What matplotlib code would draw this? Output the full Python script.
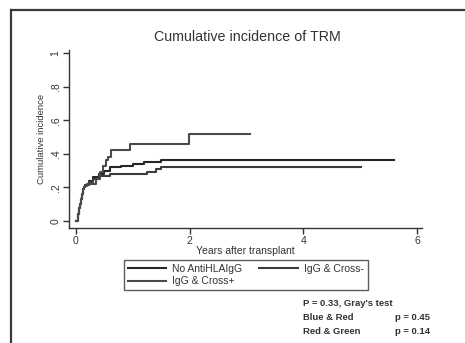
"""Cumulative incidence of TRM by anti-HLA IgG group (step curves, Stata-like look)."""
import matplotlib.pyplot as plt
from matplotlib.lines import Line2D

plt.rcParams["font.family"] = ["Liberation Sans", "DejaVu Sans"]

# years after transplant / cumulative incidence
NO_ANTI_X = [0.0, 0.02, 0.03, 0.04, 0.05, 0.06, 0.07, 0.08, 0.09, 0.10, 0.11, 0.12, 0.13,
             0.14, 0.16, 0.22, 0.30, 0.40, 0.50, 0.60, 0.80, 1.00, 1.20, 1.50, 5.60]
NO_ANTI_Y = [0.0, 0.0, 0.02, 0.04, 0.06, 0.08, 0.10, 0.12, 0.13, 0.15, 0.16, 0.17, 0.19,
             0.20, 0.215, 0.24, 0.26, 0.28, 0.30, 0.32, 0.33, 0.34, 0.35, 0.36, 0.36]

CROSS_NEG_X = [0.0, 0.02, 0.03, 0.04, 0.05, 0.06, 0.07, 0.08, 0.09, 0.10, 0.11, 0.12,
               0.13, 0.14, 0.16, 0.22, 0.30, 0.40, 0.60, 1.25, 1.40, 1.50, 5.02]
CROSS_NEG_Y = [0.0, 0.0, 0.02, 0.04, 0.06, 0.08, 0.10, 0.12, 0.13, 0.15, 0.16, 0.17,
               0.19, 0.20, 0.215, 0.23, 0.25, 0.27, 0.28, 0.29, 0.31, 0.32, 0.32]

CROSS_POS_X = [0.0, 0.02, 0.03, 0.04, 0.05, 0.06, 0.07, 0.08, 0.09, 0.10, 0.11, 0.12, 0.13,
               0.14, 0.16, 0.20, 0.35, 0.42, 0.48, 0.53, 0.57, 0.62, 0.95, 1.99, 3.06]
CROSS_POS_Y = [0.0, 0.0, 0.02, 0.04, 0.06, 0.08, 0.10, 0.12, 0.13, 0.15, 0.16, 0.17, 0.19,
               0.20, 0.21, 0.22, 0.25, 0.29, 0.33, 0.36, 0.38, 0.42, 0.46, 0.52, 0.52]

SERIES = ["No AntiHLAIgG", "IgG & Cross-", "IgG & Cross+"]
COLORS = ["#262626", "#3c3c3c", "#4a4a4a"]

fig = plt.figure(figsize=(4.65, 3.43), dpi=100)

# slide frame (top and left edges)
fig.add_artist(Line2D([11 / 465, 11 / 465], [0, 1 - 10 / 343], color="#3a3a3a", lw=1.6,
                      transform=fig.transFigure))
fig.add_artist(Line2D([11 / 465, 1], [1 - 10 / 343, 1 - 10 / 343], color="#3a3a3a", lw=1.6,
                      transform=fig.transFigure))

ax = fig.add_axes([69 / 465, 1 - 228 / 343, (422 - 69) / 465, (228 - 50) / 343])

data = [(NO_ANTI_X, NO_ANTI_Y), (CROSS_NEG_X, CROSS_NEG_Y), (CROSS_POS_X, CROSS_POS_Y)]
lines = []
for (xs, ys), name, c in zip(data, SERIES, COLORS):
    ln, = ax.step(xs, ys, where="post", color=c, lw=1.5, label=name)
    lines.append(ln)

ax.set_xlim(-0.123, 6.086)
ax.set_ylim(-0.042, 1.018)
ax.set_xticks([0, 2, 4, 6])
ax.set_yticks([0, 0.2, 0.4, 0.6, 0.8, 1.0])
ax.set_yticklabels(["0", ".2", ".4", ".6", ".8", "1"], rotation=90, va="center")
for side in ("top", "right"):
    ax.spines[side].set_visible(False)
for side in ("left", "bottom"):
    ax.spines[side].set_color("#333333")
    ax.spines[side].set_linewidth(1.0)
ax.tick_params(length=4, width=1.0, color="#333333", labelsize=7.5, labelcolor="#333333", pad=2)

ax.set_ylabel("Cumulative incidence", fontsize=6.8, color="#333333", labelpad=3)
ax.set_xlabel("Years after transplant", fontsize=7.5, color="#333333", labelpad=0)

fig.text(247 / 465, 1 - 37 / 343, "Cumulative incidence of TRM", ha="center", va="center",
         fontsize=10.3, color="#333333")

# column-wise fill: row 1 = No AntiHLAIgG, IgG & Cross- ; row 2 = IgG & Cross+
order = [0, 2, 1]
leg = fig.legend(handles=[lines[i] for i in order], labels=[SERIES[i] for i in order],
                 ncol=2, loc="upper left", bbox_to_anchor=(124 / 465, 1 - 260 / 343),
                 borderaxespad=0, fontsize=7.5, frameon=True, fancybox=False,
                 handlelength=3.7, columnspacing=1.6, handletextpad=0.6, borderpad=0.35,
                 labelspacing=0.25)
leg.get_frame().set_edgecolor("#333333")
leg.get_frame().set_linewidth(1.0)
for t in leg.get_texts():
    t.set_color("#333333")

note = dict(fontsize=6.8, fontweight="bold", color="#333333", va="center", ha="left")
fig.text(303 / 465, 1 - 304 / 343, "P = 0.33, Gray's test", **note)
fig.text(303 / 465, 1 - 317 / 343, "Blue & Red", **note)
fig.text(395 / 465, 1 - 317 / 343, "p = 0.45", **note)
fig.text(303 / 465, 1 - 331 / 343, "Red & Green", **note)
fig.text(395 / 465, 1 - 331 / 343, "p = 0.14", **note)

fig.savefig("out.png", dpi=100)
